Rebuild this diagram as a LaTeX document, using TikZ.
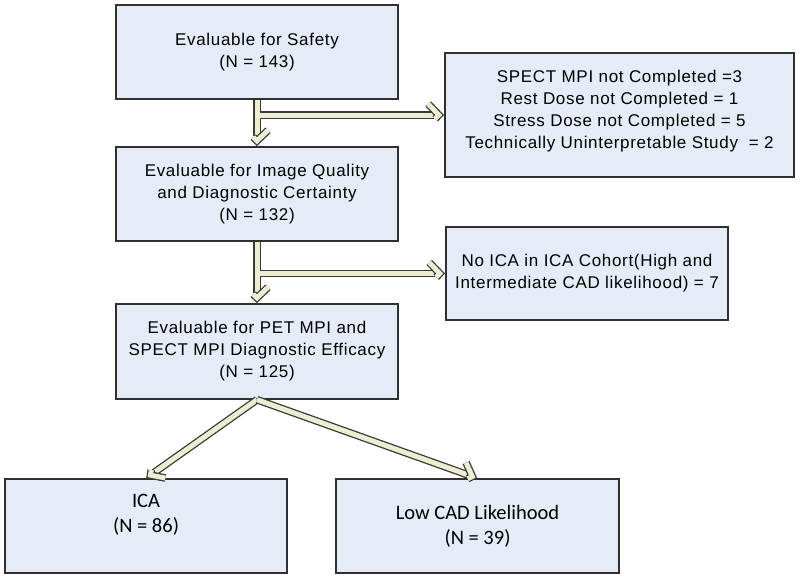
\documentclass[tikz,border=0pt]{standalone}
\usepackage{fontspec}
\setmainfont{Liberation Sans}
\newfontfamily\arialls[LetterSpace=4]{Liberation Sans}
\newfontfamily\calib{Carlito}
\usetikzlibrary{decorations.markings}
\definecolor{boxfill}{HTML}{E6ECF7}
\definecolor{boxline}{HTML}{303030}
\definecolor{cream}{HTML}{EDEDD6}
\definecolor{arrline}{HTML}{3A3A32}
\begin{document}
\begin{tikzpicture}[x=1pt,y=-1pt,
  box/.style={draw=boxline, line width=1.4pt, fill=boxfill, minimum width=282pt,
    minimum height=94pt, align=center, inner sep=0pt, text=black,
    font=\arialls\fontsize{17}{22}\selectfont},
  botbox/.style={box, font=\calib\fontsize{20.5}{25}\selectfont},
  bottxt/.style={align=center, inner sep=0pt, text=black, font=\calib\fontsize{20.5}{25}\selectfont},
  dbl/.style={draw=arrline, line width=1.3pt, double=cream, double distance=5pt,
    shorten >=10pt, postaction={decorate},
    decoration={markings, mark=at position 1 with {
      \draw[draw=arrline, line width=1.3pt, double=cream, double distance=5pt, line join=miter]
        (-16pt,11pt) -- (-5.5pt,0pt) -- (-16pt,-11pt);}}}
]
\useasboundingbox (0,0) rectangle (800,579);
\fill[white] (0,0) rectangle (800,579);

\node[box] (b1) at (257,52) {Evaluable for Safety\\(N = 143)};
\node[box, minimum width=349pt, minimum height=124pt] (b2) at (619.5,115) {};
\node[align=center, inner sep=0pt, font=\arialls\fontsize{17}{22}\selectfont] (b2t) at ([yshift=4pt]b2.center)
  {SPECT MPI not Completed =3\\Rest Dose not Completed = 1\\Stress Dose not Completed = 5\\Technically Uninterpretable Study\ \ = 2};
\node[box] (b3) at (257,194) {Evaluable for Image Quality\\and Diagnostic Certainty\\(N = 132)};
\node[box, minimum height=93pt] (b4) at (587,273.5) {No ICA in ICA Cohort(High and\\Intermediate CAD likelihood) = 7};
\node[box, minimum height=95pt] (b5) at (257,351.5) {Evaluable for PET MPI and\\SPECT MPI Diagnostic Efficacy\\(N = 125)};
\node[botbox] (ica) at (146,526) {};
\node[bottxt] (icat) at ([yshift=11pt]ica.center) {ICA\\(N = 86)};
\node[botbox, minimum width=283pt] (low) at (477.5,526) {Low CAD Likelihood\\(N = 39)};

\coordinate (j1) at (b1.south |- b2.west);
\coordinate (j2) at (b3.south |- b4.west);

\draw[dbl] (b1.south) -- (b3.north);
\draw[dbl] ([xshift=2.5pt]j1) -- (b2.west);
\draw[dbl] (b3.south) -- (b5.north);
\draw[dbl] ([xshift=2.5pt]j2) -- (b4.west);
\draw[dbl] (b5.south) -- (ica.north);
\draw[dbl] (b5.south) -- (low.north);
\end{tikzpicture}
\end{document}
